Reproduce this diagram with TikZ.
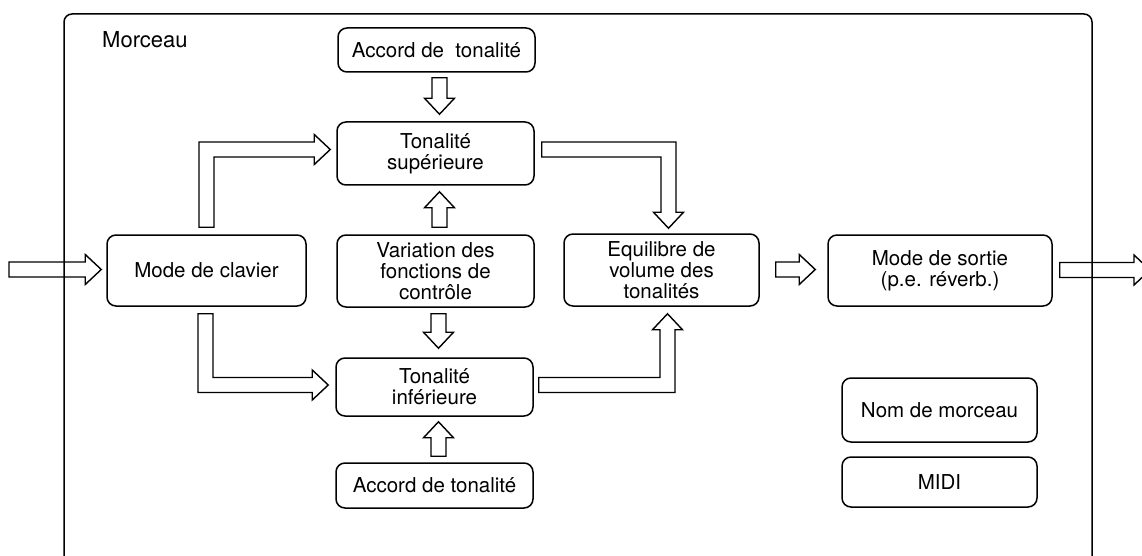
\documentclass[tikz,border=0pt]{standalone}
\usepackage{fontspec}
\setmainfont{TeX Gyre Heros}
\usetikzlibrary{calc}
\tikzset{
  box/.style={draw=black, line width=1.5pt, rounded corners=9pt, align=center, inner sep=0pt,
    font=\fontsize{20.5}{21}\selectfont},
  barrow/.style={draw=black, fill=white, line width=1.4pt, line join=miter},
  frame/.style={draw=black, line width=1.5pt, rounded corners=8pt},
}
\newcommand\arrDown[2]{\path[barrow] let \p1=(#1),\p2=(#2) in
  (\x2-7.5pt,\y1) -- (\x2+7.5pt,\y1) -- (\x2+7.5pt,\y2+16pt) -- (\x2+15pt,\y2+16pt) -- (\x2,\y2)
  -- (\x2-15pt,\y2+16pt) -- (\x2-7.5pt,\y2+16pt) -- cycle;}
\newcommand\arrUp[2]{\path[barrow] let \p1=(#1),\p2=(#2) in
  (\x2-7.5pt,\y1) -- (\x2+7.5pt,\y1) -- (\x2+7.5pt,\y2-16pt) -- (\x2+15pt,\y2-16pt) -- (\x2,\y2)
  -- (\x2-15pt,\y2-16pt) -- (\x2-7.5pt,\y2-16pt) -- cycle;}
\newcommand\arrRight[2]{\path[barrow] let \p1=(#1),\p2=(#2) in
  (\x1,\y2-7.5pt) -- (\x2-16pt,\y2-7.5pt) -- (\x2-16pt,\y2-15pt) -- (\x2,\y2)
  -- (\x2-16pt,\y2+15pt) -- (\x2-16pt,\y2+7.5pt) -- (\x1,\y2+7.5pt) -- cycle;}
\newcommand\arrUR[2]{\path[barrow] let \p1=(#1),\p2=(#2) in
  (\x1-7.5pt,\y1) -- (\x1-7.5pt,\y2+7.5pt) -- (\x2-16pt,\y2+7.5pt) -- (\x2-16pt,\y2+15pt) -- (\x2,\y2)
  -- (\x2-16pt,\y2-15pt) -- (\x2-16pt,\y2-7.5pt) -- (\x1+7.5pt,\y2-7.5pt) -- (\x1+7.5pt,\y1) -- cycle;}
\newcommand\arrDR[2]{\path[barrow] let \p1=(#1),\p2=(#2) in
  (\x1-7.5pt,\y1) -- (\x1-7.5pt,\y2-7.5pt) -- (\x2-16pt,\y2-7.5pt) -- (\x2-16pt,\y2-15pt) -- (\x2,\y2)
  -- (\x2-16pt,\y2+15pt) -- (\x2-16pt,\y2+7.5pt) -- (\x1+7.5pt,\y2+7.5pt) -- (\x1+7.5pt,\y1) -- cycle;}
\newcommand\arrRD[2]{\path[barrow] let \p1=(#1),\p2=(#2) in
  (\x1,\y1+7.5pt) -- (\x2+7.5pt,\y1+7.5pt) -- (\x2+7.5pt,\y2+16pt) -- (\x2+15pt,\y2+16pt) -- (\x2,\y2)
  -- (\x2-15pt,\y2+16pt) -- (\x2-7.5pt,\y2+16pt) -- (\x2-7.5pt,\y1-7.5pt) -- (\x1,\y1-7.5pt) -- cycle;}
\newcommand\arrRU[2]{\path[barrow] let \p1=(#1),\p2=(#2) in
  (\x1,\y1-7.5pt) -- (\x2+7.5pt,\y1-7.5pt) -- (\x2+7.5pt,\y2-16pt) -- (\x2+15pt,\y2-16pt) -- (\x2,\y2)
  -- (\x2-15pt,\y2-16pt) -- (\x2-7.5pt,\y2-16pt) -- (\x2-7.5pt,\y1+7.5pt) -- (\x1,\y1+7.5pt) -- cycle;}
\begin{document}
\begin{tikzpicture}[x=1pt,y=-1pt]
\useasboundingbox (0,0) rectangle (1142,556);
\clip (0,0) rectangle (1142,556);
\fill[white] (0,0) rectangle (1142,556);

% boxes
\node[box, minimum width=197pt, minimum height=44pt] (accT) at (436.5,50) {Accord de~~tonalité};
\node[box, minimum width=197pt, minimum height=63pt] (sup) at (435.5,153.5) {Tonalité\\supérieure};
\node[box, minimum width=197pt, minimum height=72pt] (var) at (435.5,271) {Variation des\\fonctions de\\contrôle};
\node[box, minimum width=197pt, minimum height=58pt] (inf) at (434.5,387) {Tonalité\\inférieure};
\node[box, minimum width=197pt, minimum height=45pt] (accB) at (434.5,485.5) {Accord de tonalité};
\node[box, minimum width=199pt, minimum height=71pt] (clav) at (206.5,270.5) {Mode de clavier};
\node[box, minimum width=195pt, minimum height=72pt] (equ) at (661.5,270) {Equilibre de\\volume des\\tonalités};
\node[box, minimum width=224pt, minimum height=71pt] (sortie) at (940,270.5) {Mode de sortie\\(p.e. réverb.)};
\node[box, minimum width=195pt, minimum height=64pt] (nom) at (939.5,410) {Nom de morceau};
\node[box, minimum width=195pt, minimum height=50pt] (midi) at (939.5,482) {MIDI};

\coordinate (in) at (9,269);
\coordinate (out) at (1150,270);

% arrows
\arrDown{$(accT.south)+(4,5)$}{$(sup.north)+(4,-7)$}
\arrUp{$(var.north)+(4,-7)$}{$(sup.south)+(4,6)$}
\arrDown{$(var.south)+(4,6)$}{$(inf.north)+(4,-9)$}
\arrUp{$(accB.north)+(4,-6)$}{$(inf.south)+(4,5)$}
\arrUR{$(clav.north)+(0,-7)$}{$(sup.west)+(-6,-4)$}
\arrDR{$(clav.south)+(-1,7)$}{$(inf.west)+(-7,-2)$}
\arrRD{$(sup.east)+(7,-4)$}{$(equ.north)+(7,-5)$}
\arrRU{$(inf.east)+(5,-2)$}{$(equ.south)+(6,7)$}
\arrRight{$(equ.east)+(16,0)$}{$(sortie.west)+(-12,-1)$}
\arrRight{in}{$(clav.west)+(-5,-1)$}
\arrRight{$(sortie.east)+(7,0)$}{out}

% frame
\draw[frame] (64,600) -- (64,14) -- (1092,14) -- (1092,600);
\node[anchor=base west, inner sep=0pt, font=\fontsize{22}{24}\selectfont] (title) at (102,48) {Morceau};
\end{tikzpicture}
\end{document}
